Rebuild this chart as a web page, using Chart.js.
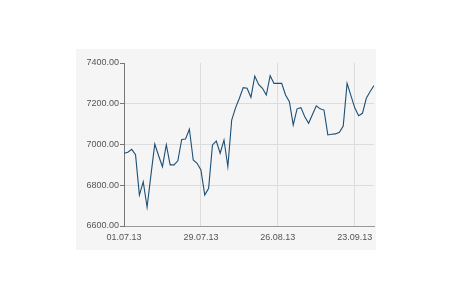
<!DOCTYPE html>
<html>
<head>
<meta charset="utf-8">
<script src="https://cdn.jsdelivr.net/npm/chart.js@4.4.1/dist/chart.umd.min.js"></script>
<style>
html,body{margin:0;padding:0;background:#fff;}
#wrap{width:450px;height:300px;}
</style>
</head>
<body>
<div id="wrap"><canvas id="c" width="450" height="300"></canvas></div>
<script>
const values = [6957,6962,6976,6950,6752,6817,6692,6850,7002,6945,
6891,6999,6900,6900,6920,7025,7027,7075,6924,6908,
6875,6752,6785,6998,7017,6957,7022,6891,7120,7180,
7227,7279,7276,7232,7336,7295,7276,7243,7338,7300,
7300,7300,7243,7210,7096,7175,7181,7136,7104,7147,
7190,7175,7169,7047,7050,7052,7060,7090,7300,7240,
7180,7141,7153,7227,7260,7289];
const xTickIndex = [0, 20, 40, 60];
const xTickLabels = ['01.07.13', '29.07.13', '26.08.13', '23.09.13'];
const yTicks = [6600, 6800, 7000, 7200, 7400];

const points = values.map((v, i) => ({x: i, y: v}));

const panelBg = {
  id: 'panelBg',
  beforeDraw(chart) {
    const c = chart.ctx;
    c.save();
    c.fillStyle = '#f5f5f5';
    c.fillRect(76, 49, 300, 201);
    c.restore();
  }
};

new Chart(document.getElementById('c'), {
  type: 'line',
  data: {
    datasets: [{
      data: points,
      borderColor: '#1d4f75',
      borderWidth: 1.1,
      pointRadius: 0,
      tension: 0,
      fill: false
    }]
  },
  options: {
    responsive: false,
    animation: false,
    layout: {padding: {left: 76, top: 63, right: 76, bottom: 50}},
    plugins: {legend: {display: false}, tooltip: {enabled: false}},
    scales: {
      x: {
        type: 'linear',
        min: 0,
        max: values.length - 1,
        afterBuildTicks(scale) { scale.ticks = xTickIndex.map(v => ({value: v})); },
        afterFit(scale) { scale.height = 24; },
        ticks: {
          callback(v) { const k = xTickIndex.indexOf(v); return k >= 0 ? xTickLabels[k] : ''; },
          color: '#555', font: {family: 'Liberation Sans, Arial', size: 9},
          maxRotation: 0, autoSkip: false, padding: 6
        },
        grid: {color: '#dcdcdc', drawTicks: false, lineWidth: 1},
        border: {color: '#999', width: 1}
      },
      y: {
        min: 6600,
        max: 7400,
        afterBuildTicks(scale) { scale.ticks = yTicks.map(v => ({value: v})); },
        afterFit(scale) { scale.width = 48; },
        ticks: {
          callback(v) { return Number(v).toFixed(2); },
          color: '#555', font: {family: 'Liberation Sans, Arial', size: 9}, padding: 1
        },
        grid: {
          color(ctx) { return ctx.tick && ctx.tick.value === 7400 ? 'rgba(0,0,0,0)' : '#dcdcdc'; },
          tickColor: '#777', tickLength: 4, lineWidth: 1
        },
        border: {color: '#777', width: 1}
      }
    }
  },
  plugins: [panelBg]
});
</script>
</body>
</html>
